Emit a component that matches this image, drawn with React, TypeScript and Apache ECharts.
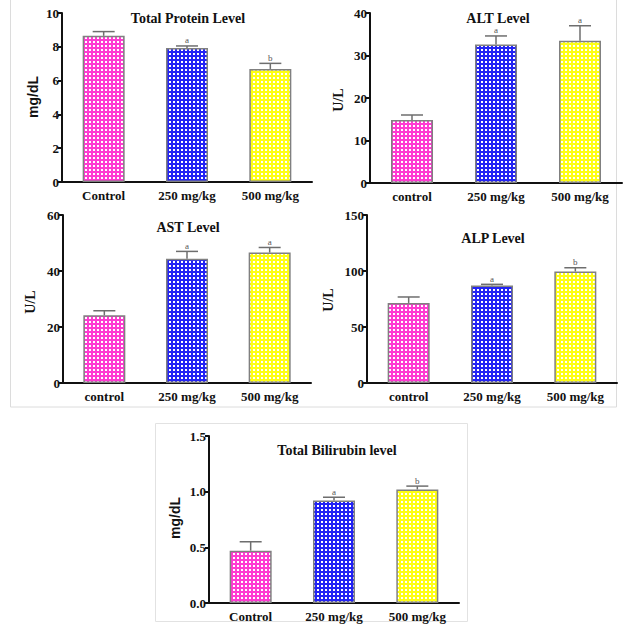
import React, { useEffect, useRef } from 'react';
import * as echarts from 'echarts';

// Group labels
const catsCapital = ['Control', '250 mg/kg', '500 mg/kg'];
const catsLower = ['control', '250 mg/kg', '500 mg/kg'];

// Total protein (mg/dL)
const proteinMean = [8.65, 7.93, 6.69];
const proteinSem = [0.25, 0.12, 0.33];
const proteinSig = ['', 'a', 'b'];

// ALT (U/L)
const altMean = [14.8, 32.6, 33.5];
const altSem = [1.2, 2.0, 3.5];
const altSig = ['', 'a', 'a'];

// AST (U/L)
const astMean = [24.2, 44.4, 46.6];
const astSem = [1.6, 2.6, 1.8];
const astSig = ['', 'a', 'a'];

// ALP (U/L)
const alpMean = [71.5, 87.0, 99.6];
const alpSem = [5.3, 1.1, 3.3];
const alpSig = ['', 'a', 'b'];

// Total bilirubin (mg/dL)
const biliMean = [0.47, 0.92, 1.02];
const biliSem = [0.08, 0.03, 0.03];
const biliSig = ['', 'a', 'b'];

const groupColors = ['#ff3ad2', '#2323f5', '#ffff14'];

const SERIF = '"Liberation Serif", "Times New Roman", serif';
const SANS = '"Liberation Sans", Arial, sans-serif';

type Panel = {
  title: string;
  yName: string;
  yNameSans: boolean;
  cats: string[];
  mean: number[];
  sem: number[];
  sig: string[];
  max: number;
  interval: number;
  decimals: number;
  grid: { left: number; top: number; width: number; height: number };
  titlePos: [number, number];
  yNamePos: [number, number];
};

const panels: Panel[] = [
  {
    title: 'Total Protein Level', yName: 'mg/dL', yNameSans: true, cats: catsCapital,
    mean: proteinMean, sem: proteinSem, sig: proteinSig, max: 10, interval: 2, decimals: 0,
    grid: { left: 62, top: 13, width: 250, height: 169 }, titlePos: [188, 18], yNamePos: [33, 97],
  },
  {
    title: 'ALT Level', yName: 'U/L', yNameSans: false, cats: catsLower,
    mean: altMean, sem: altSem, sig: altSig, max: 40, interval: 10, decimals: 0,
    grid: { left: 370, top: 13, width: 252, height: 170 }, titlePos: [498, 18], yNamePos: [338, 100],
  },
  {
    title: 'AST Level', yName: 'U/L', yNameSans: false, cats: catsLower,
    mean: astMean, sem: astSem, sig: astSig, max: 60, interval: 20, decimals: 0,
    grid: { left: 63, top: 215, width: 248, height: 168 }, titlePos: [188, 227], yNamePos: [30, 302],
  },
  {
    title: 'ALP Level', yName: 'U/L', yNameSans: false, cats: catsLower,
    mean: alpMean, sem: alpSem, sig: alpSig, max: 150, interval: 50, decimals: 0,
    grid: { left: 367, top: 215, width: 250, height: 168 }, titlePos: [493, 238], yNamePos: [328, 300],
  },
  {
    title: 'Total Bilirubin level', yName: 'mg/dL', yNameSans: true, cats: catsCapital,
    mean: biliMean, sem: biliSem, sig: biliSig, max: 1.5, interval: 0.5, decimals: 1,
    grid: { left: 209, top: 436, width: 250, height: 167 }, titlePos: [337, 450], yNamePos: [175, 518],
  },
];

// Small tile: coloured ground with a white square, repeated as a check texture
function makeTile(color: string): HTMLCanvasElement {
  const c = document.createElement('canvas');
  c.width = 4;
  c.height = 4;
  const ctx = c.getContext('2d')!;
  ctx.fillStyle = color;
  ctx.fillRect(0, 0, 4, 4);
  ctx.fillStyle = '#ffffff';
  ctx.fillRect(1, 1, 2, 2);
  return c;
}

export default function App() {
  const ref = useRef<HTMLDivElement>(null);

  useEffect(() => {
    if (!ref.current) return;
    const chart = echarts.init(ref.current, undefined, { renderer: 'svg' });

    const fills = groupColors.map((col) => ({
      image: makeTile(col),
      imageWidth: 4,
      imageHeight: 4,
      repeat: 'repeat',
    }));

    const grids: any[] = [];
    const xAxes: any[] = [];
    const yAxes: any[] = [];
    const series: any[] = [];
    const graphics: any[] = [
      {
        type: 'rect', silent: true, z: 0,
        shape: { x: 10.5, y: -1, width: 606, height: 408 },
        style: { fill: 'none', stroke: '#dcdcdc', lineWidth: 1 },
      },
      {
        type: 'rect', silent: true, z: 0,
        shape: { x: 155.5, y: 423.5, width: 312, height: 198 },
        style: { fill: 'none', stroke: '#e2e2e2', lineWidth: 1 },
      },
    ];

    panels.forEach((p, k) => {
      grids.push({ ...p.grid, containLabel: false });
      xAxes.push({
        type: 'category',
        gridIndex: k,
        data: p.cats,
        boundaryGap: true,
        axisLine: { lineStyle: { color: '#111', width: 2 } },
        axisTick: { alignWithLabel: true, length: 4, lineStyle: { color: '#111', width: 2 } },
        axisLabel: {
          color: '#111', fontFamily: SERIF, fontWeight: 'bold', fontSize: 13, margin: 7, interval: 0,
        },
        splitLine: { show: false },
      });
      yAxes.push({
        type: 'value',
        gridIndex: k,
        min: 0,
        max: p.max,
        interval: p.interval,
        axisLine: { show: true, lineStyle: { color: '#111', width: 2 } },
        axisTick: { show: true, length: 4, lineStyle: { color: '#111', width: 2 } },
        axisLabel: {
          color: '#111', fontFamily: SERIF, fontWeight: 'bold', fontSize: 13, margin: 3,
          formatter: (v: number) => v.toFixed(p.decimals),
        },
        splitLine: { show: false },
      });
      series.push({
        type: 'bar',
        xAxisIndex: k,
        yAxisIndex: k,
        barWidth: 42,
        data: p.mean.map((m, i) => ({
          value: m,
          itemStyle: { color: fills[i], borderColor: '#808080', borderWidth: 1.5 },
        })),
        z: 2,
      });
      series.push({
        type: 'custom',
        xAxisIndex: k,
        yAxisIndex: k,
        z: 3,
        itemStyle: { color: '#6e6e6e' },
        data: p.mean.map((m, i) => [i, m, p.sem[i]]),
        encode: { x: 0, y: 1 },
        renderItem: (params: any, api: any) => {
          const i = api.value(0);
          const m = api.value(1);
          const s = api.value(2);
          const a = api.coord([i, m]);
          const b = api.coord([i, m + s]);
          const half = 11;
          const lineStyle = { stroke: '#6e6e6e', lineWidth: 1.5 };
          const children: any[] = [
            { type: 'line', shape: { x1: a[0], y1: a[1], x2: b[0], y2: b[1] }, style: lineStyle },
            { type: 'line', shape: { x1: b[0] - half, y1: b[1], x2: b[0] + half, y2: b[1] }, style: lineStyle },
          ];
          const letter = p.sig[params.dataIndex];
          if (letter) {
            children.push({
              type: 'text',
              x: b[0],
              y: b[1] - 1,
              style: {
                text: letter, fill: '#555555', fontFamily: SERIF, fontSize: 9,
                align: 'center', verticalAlign: 'bottom',
              },
            });
          }
          return { type: 'group', children };
        },
      });

      graphics.push({
        type: 'text',
        x: p.titlePos[0],
        y: p.titlePos[1],
        z: 5,
        style: {
          text: p.title, fill: '#111', fontFamily: SERIF, fontWeight: 'bold', fontSize: 14,
          align: 'center', verticalAlign: 'middle',
        },
      });
      graphics.push({
        type: 'text',
        x: p.yNamePos[0],
        y: p.yNamePos[1],
        rotation: Math.PI / 2,
        z: 5,
        style: {
          text: p.yName, fill: '#111',
          fontFamily: p.yNameSans ? SANS : SERIF, fontWeight: 'bold',
          fontSize: 14,
          align: 'center', verticalAlign: 'middle',
        },
      });
    });

    chart.setOption({
      animation: false,
      backgroundColor: '#ffffff',
      grid: grids,
      xAxis: xAxes,
      yAxis: yAxes,
      series,
      graphic: graphics,
    });

    return () => chart.dispose();
  }, []);

  return (
    <div
      ref={ref}
      style={{ position: 'fixed', left: 0, top: 0, width: 627, height: 626 }}
    />
  );
}
